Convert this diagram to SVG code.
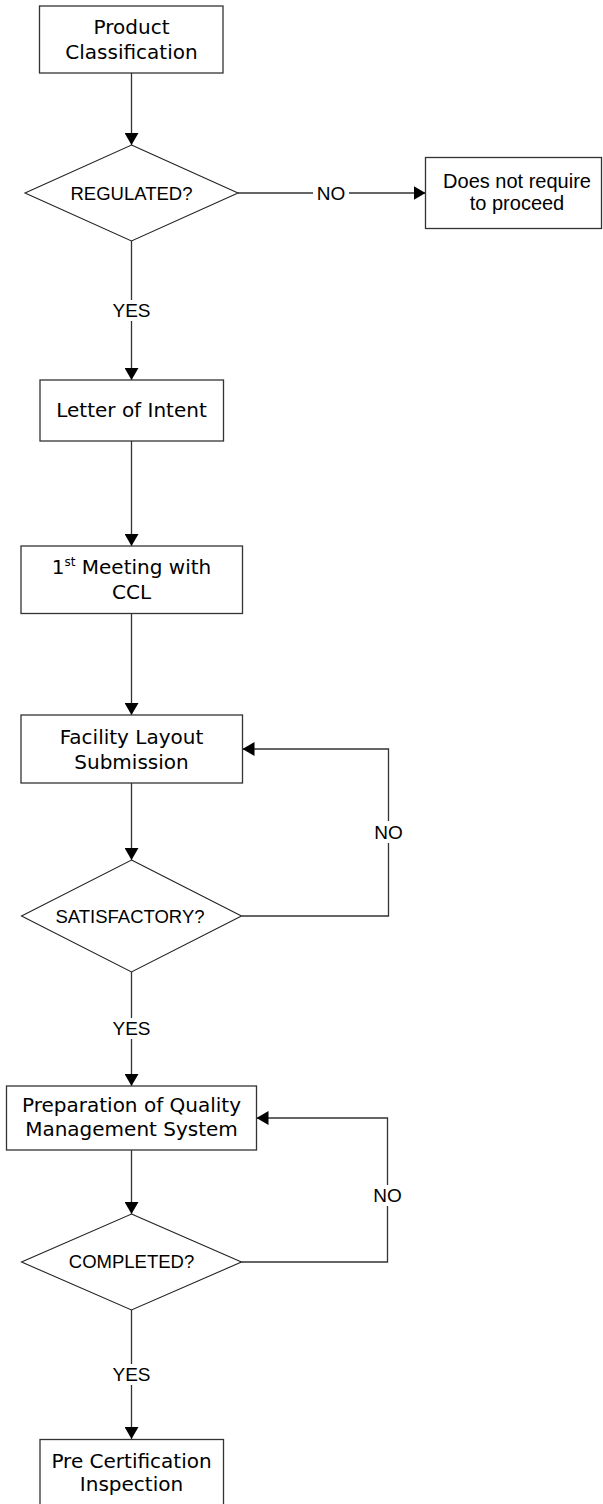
<svg xmlns="http://www.w3.org/2000/svg" width="603" height="1504" viewBox="0 0 603 1504">
<style>
.box{fill:#fff;stroke:#333;stroke-width:1.3}
.dia{fill:#fff;stroke:#222;stroke-width:1.1}
.con{fill:none;stroke:#333;stroke-width:1.3}
.bt{font-family:"DejaVu Sans",Verdana,sans-serif;font-size:20px;fill:#000;text-anchor:middle}
.dt{font-family:"Liberation Sans",Arial,sans-serif;font-size:18.5px;fill:#000;text-anchor:middle}
.lb{font-family:"Liberation Sans",Arial,sans-serif;font-size:19px;fill:#000;text-anchor:middle}
.nt{font-family:"Liberation Sans",Arial,sans-serif;font-size:20px;fill:#000;text-anchor:middle}
</style>
<defs>
<marker id="ah" markerUnits="userSpaceOnUse" markerWidth="14" markerHeight="14" refX="12" refY="7" orient="auto">
<path d="M0,0 L12,7 L0,14 z" fill="#000"/>
</marker>
</defs>
<g id="connectors">
<line class="con" x1="131.5" y1="73" x2="131.5" y2="145" marker-end="url(#ah)"/>
<line class="con" x1="238" y1="193" x2="313" y2="193"/>
<line class="con" x1="349" y1="193" x2="425.5" y2="193" marker-end="url(#ah)"/>
<line class="con" x1="131.5" y1="241" x2="131.5" y2="300"/>
<line class="con" x1="131.5" y1="321" x2="131.5" y2="380" marker-end="url(#ah)"/>
<line class="con" x1="131.5" y1="441" x2="131.5" y2="546" marker-end="url(#ah)"/>
<line class="con" x1="131.5" y1="613" x2="131.5" y2="715" marker-end="url(#ah)"/>
<line class="con" x1="131.5" y1="783" x2="131.5" y2="860" marker-end="url(#ah)"/>
<polyline class="con" points="241.5,916 388.5,916 388.5,843"/>
<polyline class="con" points="388.5,821 388.5,749 242.5,749" marker-end="url(#ah)"/>
<line class="con" x1="131.5" y1="972" x2="131.5" y2="1018"/>
<line class="con" x1="131.5" y1="1039" x2="131.5" y2="1086" marker-end="url(#ah)"/>
<line class="con" x1="131.5" y1="1150" x2="131.5" y2="1214" marker-end="url(#ah)"/>
<polyline class="con" points="241.5,1262 387.5,1262 387.5,1206"/>
<polyline class="con" points="387.5,1185 387.5,1118 256.5,1118" marker-end="url(#ah)"/>
<line class="con" x1="131.5" y1="1310" x2="131.5" y2="1364"/>
<line class="con" x1="131.5" y1="1385" x2="131.5" y2="1439" marker-end="url(#ah)"/>
<text class="lb" x="331" y="199.5">NO</text>
<text class="lb" x="131.5" y="317">YES</text>
<text class="lb" x="388.5" y="838.5">NO</text>
<text class="lb" x="131.5" y="1035">YES</text>
<text class="lb" x="387.5" y="1202">NO</text>
<text class="lb" x="131.5" y="1381">YES</text>
</g>
<g id="n1">
<rect class="box" x="39.5" y="6" width="183.5" height="67"/>
<text class="bt" x="131.5" y="33.5">Product</text>
<text class="bt" x="131.5" y="59">Classification</text>
</g>
<g id="d1">
<polygon class="dia" points="131.5,145 238,193 131.5,241 25,193"/>
<text class="dt" x="131.5" y="199.5">REGULATED?</text>
</g>
<g id="n2">
<rect class="box" x="425.5" y="157.5" width="176" height="71"/>
<text class="nt" x="517" y="188">Does not require</text>
<text class="nt" x="517" y="209.5">to proceed</text>
</g>
<g id="n3">
<rect class="box" x="40" y="380" width="183.5" height="61"/>
<text class="bt" x="131.5" y="416.5">Letter of Intent</text>
</g>
<g id="n4">
<rect class="box" x="21" y="546" width="221.5" height="67.5"/>
<text class="bt" x="131.5" y="574">1<tspan font-size="12" dy="-8">st</tspan><tspan dy="8"> Meeting with</tspan></text>
<text class="bt" x="131.5" y="598.5">CCL</text>
</g>
<g id="n5">
<rect class="box" x="21" y="715" width="221.5" height="68"/>
<text class="bt" x="131.5" y="743.5">Facility Layout</text>
<text class="bt" x="131.5" y="768.5">Submission</text>
</g>
<g id="d2">
<polygon class="dia" points="131.5,860 241.5,916 131.5,972 21.5,916"/>
<text class="dt" x="130" y="922.5">SATISFACTORY?</text>
</g>
<g id="n6">
<rect class="box" x="6.5" y="1086" width="250" height="64"/>
<text class="bt" x="131.5" y="1112">Preparation of Quality</text>
<text class="bt" x="131.5" y="1136">Management System</text>
</g>
<g id="d3">
<polygon class="dia" points="131.5,1214 241.5,1262 131.5,1310 21.5,1262"/>
<text class="dt" x="131.5" y="1268">COMPLETED?</text>
</g>
<g id="n7">
<rect class="box" x="40" y="1439.5" width="183.5" height="70"/>
<text class="bt" x="131.5" y="1467.5">Pre Certification</text>
<text class="bt" x="131.5" y="1491">Inspection</text>
</g>
</svg>
